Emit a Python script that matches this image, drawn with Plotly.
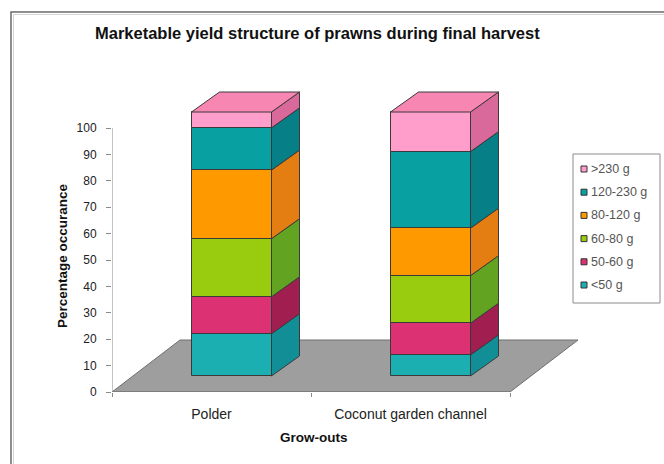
import plotly.graph_objects as go

# ---- data -------------------------------------------------------------
categories = ["Polder", "Coconut garden channel"]
size_classes = ["<50 g", "50-60 g", "60-80 g", "80-120 g", "120-230 g", ">230 g"]
polder = [16, 14, 22, 26, 16, 6]
coconut = [8, 12, 18, 18, 29, 15]
y_ticks = [0, 10, 20, 30, 40, 50, 60, 70, 80, 90, 100]

# ---- styles -----------------------------------------------------------
front_colors = ["#1CAFB2", "#DC3273", "#99CC0E", "#FF9900", "#08A0A0", "#FF9DCB"]
side_colors = ["#128E96", "#A11F50", "#62A322", "#E47E12", "#077F86", "#D9699A"]
top_color = "#F786B2"
edge = "#3A3A3A"
font = "Liberation Sans, Arial, sans-serif"

W, H = 664, 464
L, R, T, B = 112, 64, 80, 72
PX_PER_CAT = 199.0      # pixels per category unit
PX_PER_VAL = 2.64       # pixels per percentage point
plot_w, plot_h = W - L - R, H - T - B
x_min = -0.5
x_max = x_min + plot_w / PX_PER_CAT
y_max = plot_h / PX_PER_VAL

# oblique projection: floor depth, bar depth and bar offset into the floor
floor_dx, floor_dy = 68 / PX_PER_CAT, 52 / PX_PER_VAL
bar_dx, bar_dy = 28 / PX_PER_CAT, 20 / PX_PER_VAL
off_x, off_y = (floor_dx - bar_dx) / 2, (floor_dy - bar_dy) / 2
bar_w = 80 / PX_PER_CAT


def px(x):
    return (x - L) / plot_w


def py(y):
    return (H - B - y) / plot_h


series = [polder, coconut]
n = len(categories)
fig = go.Figure()

# stacked front faces
cum = [[0] * len(size_classes) for _ in categories]
for ci, vals in enumerate(series):
    s = 0
    for k, v in enumerate(vals):
        cum[ci][k] = s
        s += v

centers = [i + off_x for i in range(n)]
for k, name in enumerate(size_classes):
    fig.add_trace(go.Bar(
        x=centers, y=[series[ci][k] for ci in range(n)],
        base=[cum[ci][k] + off_y for ci in range(n)],
        width=bar_w, name=name, showlegend=False,
        marker=dict(color=front_colors[k], line=dict(color=edge, width=1)),
    ))

# side and top faces
for ci in range(n):
    xr = centers[ci] + bar_w / 2
    xl = centers[ci] - bar_w / 2
    for k in range(len(size_classes)):
        b = cum[ci][k] + off_y
        t = b + series[ci][k]
        fig.add_trace(go.Scatter(
            x=[xr, xr + bar_dx, xr + bar_dx, xr, xr],
            y=[b, b + bar_dy, t + bar_dy, t, b],
            mode="lines", fill="toself", fillcolor=side_colors[k],
            line=dict(color=edge, width=1), hoverinfo="skip", showlegend=False))
    top = cum[ci][-1] + series[ci][-1] + off_y
    fig.add_trace(go.Scatter(
        x=[xl, xr, xr + bar_dx, xl + bar_dx, xl],
        y=[top, top, top + bar_dy, top + bar_dy, top],
        mode="lines", fill="toself", fillcolor=top_color,
        line=dict(color=edge, width=1), hoverinfo="skip", showlegend=False))

# floor of the chart, drawn underneath the bars
fx = [x_min, x_min + n, x_min + n + floor_dx, x_min + floor_dx]
fy = [0, 0, floor_dy, floor_dy]
floor_path = "M " + " L ".join(f"{a},{b}" for a, b in zip(fx, fy)) + " Z"

shapes = [
    dict(type="path", xref="x", yref="y", path=floor_path, layer="below",
         fillcolor="#9E9E9E", line=dict(color="#6E6E6E", width=1)),
    dict(type="line", xref="x", yref="y", x0=x_min, x1=x_min + n, y0=0, y1=0,
         layer="below", line=dict(color="#7A7A7A", width=1.5)),
    # value axis line
    dict(type="line", xref="x", yref="y", x0=x_min, x1=x_min, y0=0, y1=100,
         line=dict(color="#8A8A8A", width=1)),
    # chart area border
    dict(type="rect", xref="paper", yref="paper", x0=px(11), x1=px(680),
         y0=py(480), y1=py(12), line=dict(color="#6A6A6A", width=1.5)),
    dict(type="rect", xref="paper", yref="paper", x0=px(13.5), x1=px(680),
         y0=py(480), y1=py(14.5), line=dict(color="#D4D4D4", width=1)),
    # legend box
    dict(type="rect", xref="paper", yref="paper", x0=px(573), x1=px(660),
         y0=py(303), y1=py(154), line=dict(color="#8C8C8C", width=1),
         fillcolor="white"),
]

annotations = [
    dict(text="<b>Marketable yield structure of prawns during final harvest</b>",
         x=px(317), y=py(33), xref="paper", yref="paper", showarrow=False,
         xanchor="center", yanchor="middle", font=dict(size=16.5, color="#111", family=font)),
    dict(text="<b>Percentage occurance</b>", textangle=-90,
         x=px(62), y=py(256), xref="paper", yref="paper", showarrow=False,
         xanchor="center", yanchor="middle", font=dict(size=13.5, color="#111", family=font)),
    dict(text="<b>Grow-outs</b>",
         x=px(314), y=py(437), xref="paper", yref="paper", showarrow=False,
         xanchor="center", yanchor="middle", font=dict(size=13.5, color="#111", family=font)),
]

# legend: top item is the largest size class
for j, k in enumerate(reversed(range(len(size_classes)))):
    cy = 169 + j * 23.2
    shapes.append(dict(type="rect", xref="paper", yref="paper",
                       x0=px(581), x1=px(587), y0=py(cy + 3), y1=py(cy - 3),
                       fillcolor=front_colors[k], line=dict(color="#333", width=1)))
    annotations.append(dict(text=size_classes[k], x=px(589), y=py(cy),
                            xref="paper", yref="paper", showarrow=False,
                            xanchor="left", yanchor="middle",
                            font=dict(size=12.5, color="#555", family=font)))

fig.update_layout(
    width=W, height=H, autosize=False,
    margin=dict(l=L, r=R, t=T, b=B, pad=0),
    paper_bgcolor="white", plot_bgcolor="rgba(0,0,0,0)",
    barmode="overlay", bargap=0, showlegend=False,
    font=dict(family=font, size=12, color="#222"),
    shapes=shapes, annotations=annotations,
)
fig.update_xaxes(range=[x_min, x_max], tickvals=list(range(n)), ticktext=categories,
                 ticks="", showgrid=False, zeroline=False, showline=False,
                 ticklabelstandoff=12,
                 tickfont=dict(size=14, color="#222", family=font),
                 minor=dict(tickvals=[x_min + i for i in range(n + 1)], ticks="outside",
                            ticklen=4, tickcolor="#8A8A8A", showgrid=False))
fig.update_yaxes(range=[0, y_max], tickvals=y_ticks, ticks="outside", ticklen=5,
                 tickcolor="#8A8A8A", showgrid=False, zeroline=False, showline=False,
                 ticklabelstandoff=7,
                 tickfont=dict(size=12, color="#222", family=font))

fig.write_html("out.html")
